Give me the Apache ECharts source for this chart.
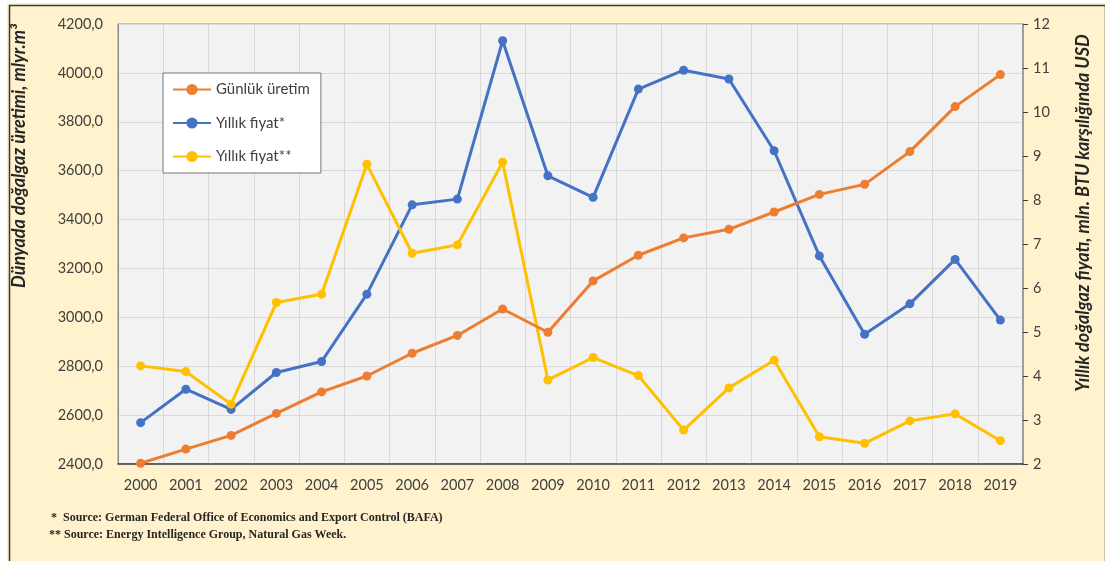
<!DOCTYPE html>
<html>
<head>
<meta charset="utf-8">
<script src="https://cdn.jsdelivr.net/npm/echarts@6/dist/echarts.min.js"></script>
<style>
html,body{margin:0;padding:0;background:#fff;}
#c{width:1105px;height:561px;}
</style>
</head>
<body>
<div id="c"></div>
<script>
const years = ['2000','2001','2002','2003','2004','2005','2006','2007','2008','2009','2010','2011','2012','2013','2014','2015','2016','2017','2018','2019'];
const production = [2403,2461,2517,2607,2695,2760,2853,2926,3034,2939,3149,3254,3325,3360,3431,3503,3544,3678,3862,3993];
const priceBAFA = [2.94,3.70,3.24,4.08,4.33,5.86,7.89,8.02,11.62,8.55,8.06,10.52,10.95,10.75,9.12,6.73,4.95,5.64,6.65,5.27];
const priceEIG = [4.23,4.10,3.36,5.67,5.86,8.81,6.79,6.98,8.86,3.91,4.42,4.01,2.77,3.73,4.36,2.62,2.47,2.98,3.14,2.53];
const seriesNames = ['Günlük üretim','Yıllık fiyat*','Yıllık fiyat**'];
const leftTitle = 'Dünyada doğalgaz üretimi, mlyr.m³';
const rightTitle = 'Yıllık doğalgaz fiyatı, mln. BTU karşılığında USD';
const notes = ['*  Source: German Federal Office of Economics and Export Control (BAFA)','** Source: Energy Intelligence Group, Natural Gas Week.'];

const chart = echarts.init(document.getElementById('c'), null, {renderer:'canvas'});
const labelFont = {fontFamily:'Lato, "Open Sans", sans-serif', fontSize:14.5, color:'#404040'};
function mkSeries(name, data, color, yIdx){
  return {name:name, type:'line', data:data, yAxisIndex:yIdx, symbol:'circle', symbolSize:9,
    lineStyle:{color:color, width:3}, itemStyle:{color:color}, z: yIdx===0?3:2};
}
chart.setOption({
  backgroundColor:'#FFF2CC',
  animation:false,
  grid:{left:118, right:82, top:24, bottom:97, show:true, backgroundColor:'#F2F2F2', borderColor:'#8c8c8c', borderWidth:1},
  legend:{
    left:163, top:73, orient:'vertical', backgroundColor:'#ffffff', borderColor:'#777', borderWidth:1,
    padding:[9,11,9,9], itemWidth:38, itemHeight:14, itemGap:18.5,
    textStyle:{fontFamily:'Lato, "Open Sans", sans-serif', fontSize:15, color:'#404040'},
    data:seriesNames
  },
  xAxis:{
    type:'category', data:years, boundaryGap:true,
    axisLine:{lineStyle:{color:'#404040', width:1.5}}, axisTick:{show:false},
    axisLabel:Object.assign({margin:14}, labelFont),
    splitLine:{show:true, lineStyle:{color:'#d9d9d9'}}
  },
  yAxis:[
    {type:'value', min:2400, max:4200, interval:200, position:'left',
     axisLine:{show:true, lineStyle:{color:'#8c8c8c'}}, axisTick:{show:false},
     axisLabel:Object.assign({margin:15, formatter:v=>v.toFixed(1).replace('.',',')}, labelFont),
     splitLine:{show:true, lineStyle:{color:'#d9d9d9'}}},
    {type:'value', min:2, max:12, interval:1, position:'right',
     axisLine:{show:true, lineStyle:{color:'#8c8c8c', width:1.5}}, axisTick:{show:true, length:5, lineStyle:{color:'#404040'}},
     axisLabel:Object.assign({margin:10}, labelFont),
     splitLine:{show:false}}
  ],
  series:[
    mkSeries(seriesNames[0], production, '#ED7D31', 0),
    mkSeries(seriesNames[1], priceBAFA, '#4472C4', 1),
    mkSeries(seriesNames[2], priceEIG, '#FFC000', 1)
  ],
  graphic:[
    {type:'rect', left:7, top:3, z:-10, silent:true, shape:{width:1096, height:560}, style:{fill:'none', stroke:'#3a3a3a', lineWidth:1.5}},
    {type:'rect', left:0, top:0, z:-10, silent:true, shape:{width:1105, height:3}, style:{fill:'#ffffff'}},
    {type:'rect', left:0, top:0, z:-10, silent:true, shape:{width:7, height:561}, style:{fill:'#ffffff'}},
    {type:'text', x:19, y:156, rotation:Math.PI/2, silent:true,
     style:{text:leftTitle, fontFamily:'Lato, "Open Sans", sans-serif', fontSize:18, fontWeight:'bold', fontStyle:'italic', fill:'#262626', align:'center', verticalAlign:'middle'}},
    {type:'text', x:1083, y:213, rotation:Math.PI/2, silent:true,
     style:{text:rightTitle, fontFamily:'Lato, "Open Sans", sans-serif', fontSize:18, fontWeight:'bold', fontStyle:'italic', fill:'#262626', align:'center', verticalAlign:'middle'}},
    {type:'text', left:51, top:512, silent:true,
     style:{text:notes[0], fontFamily:'"Liberation Serif", serif', fontSize:12, fontWeight:'bold', fill:'#262626'}},
    {type:'text', left:49, top:529, silent:true,
     style:{text:notes[1], fontFamily:'"Liberation Serif", serif', fontSize:12, fontWeight:'bold', fill:'#262626'}}
  ]
});
</script>
</body>
</html>
